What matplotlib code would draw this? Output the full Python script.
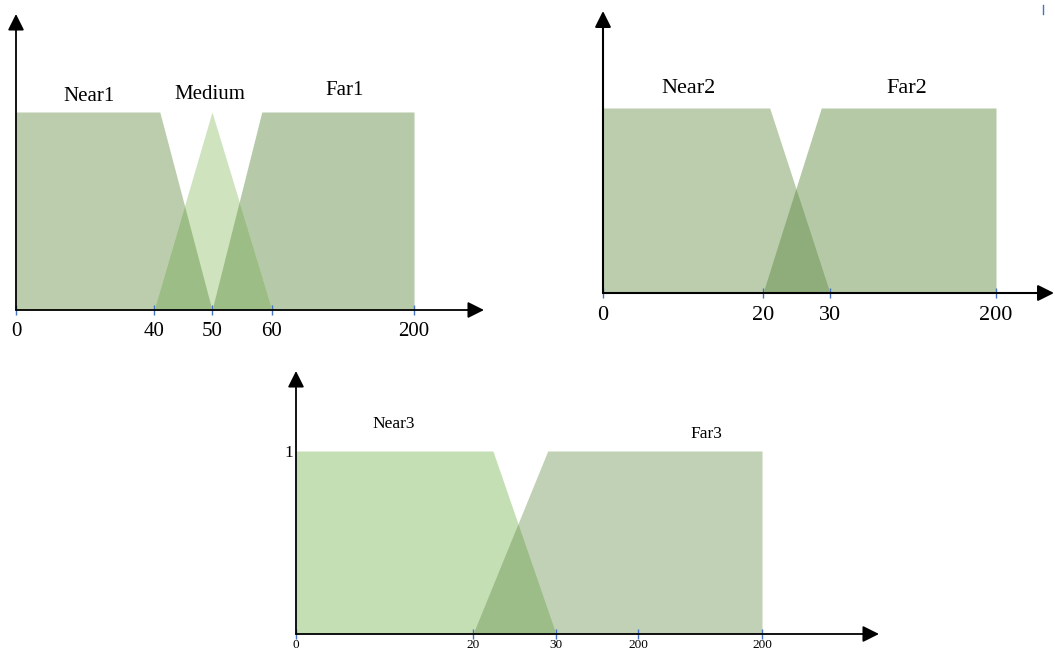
import numpy as np
import matplotlib
matplotlib.use('Agg')
import matplotlib.pyplot as plt
from matplotlib.lines import Line2D

plt.rcParams['font.family'] = ['Liberation Serif', 'DejaVu Serif']

############################## data ###########################################
# membership functions: (x breakpoints, membership values)
# panels 1 and 2 use the axis values, panel 3 uses tick-index units because
# its axis has two ticks labelled 200
p1_ticks = [0, 40, 50, 60, 200]
p1_labels = ['0', '40', '50', '60', '200']
near1 = ([0, 41, 50], [1, 1, 0])
medium = ([40, 50, 60], [0, 1, 0])
far1 = ([50, 58.3, 200], [0, 1, 1])

p2_ticks = [0, 20, 30, 200]
p2_labels = ['0', '20', '30', '200']
near2 = ([0, 21, 30], [1, 1, 0])
far2 = ([20, 28.7, 200], [0, 1, 1])

p3_ticks = [0, 1, 2, 3, 4]
p3_labels = ['0', '20', '30', '200', '200']
near3 = ([0, 1.24, 2], [1, 1, 0])
far3 = ([1, 1.9, 4], [0, 1, 1])

############################## layout #########################################
W, H = 1055, 651
fig = plt.figure(figsize=(W / 100, H / 100), dpi=100)


def make_axes(left, right, bottom, top, unit_px, lw=1.3):
    # pixel box -> axes, x in pixel offsets from the y axis, y in membership
    ax = fig.add_axes([left / W, (H - bottom) / H, (right - left) / W, (bottom - top) / H])
    ax.set_xlim(0, right - left)
    ax.set_ylim(0, (bottom - top) / unit_px)
    for s in ax.spines.values():
        s.set_visible(False)
    kw = dict(arrowstyle='-|>,head_length=0.7,head_width=0.35', color='black',
              lw=lw, shrinkA=0, shrinkB=0, mutation_scale=14)
    ax.annotate('', xy=(1, 0), xytext=(0, 0), xycoords='axes fraction',
                arrowprops=kw, annotation_clip=False, zorder=5)
    ax.annotate('', xy=(0, 1), xytext=(0, 0), xycoords='axes fraction',
                arrowprops=kw, annotation_clip=False, zorder=5)
    return ax


def draw_sets(ax, tick_vals, tick_pos, sets, colors, overlaps, ov_color):
    grid = np.linspace(0, tick_pos[-1], 3000)
    mus = []
    for (xs, ys), c in zip(sets, colors):
        px = np.interp(xs, tick_vals, tick_pos)
        mu = np.interp(grid, px, ys, left=0, right=0)
        mus.append(mu)
        ax.fill_between(grid, 0, mu, where=mu > 0, color=c, lw=0, zorder=1)
    for i, j in overlaps:
        ax.fill_between(grid, 0, np.minimum(mus[i], mus[j]), color=ov_color, lw=0, zorder=2)


def set_ticks(ax, pos, labels, size, pad):
    ax.set_xticks(pos)
    ax.set_xticklabels(labels, fontsize=size)
    ax.tick_params(axis='x', direction='inout', length=7, width=1, color='#4472c4', pad=pad)
    ax.set_yticks([])


# panel 1
ax1 = make_axes(16, 484, 310, 14, 198)
p1_pos = [0, 138, 196, 256, 398]
draw_sets(ax1, p1_ticks, p1_pos, [near1, far1, medium],
          ['#bccdae', '#b6c9a8', '#cfe3bf'], [(0, 2), (1, 2)], '#9dbd86')
set_ticks(ax1, p1_pos, p1_labels, 15, 5)
ax1.get_xticklabels()[0].set_x(-3)
ax1.text(73, 1.08, 'Near1', fontsize=15, ha='center', va='center')
ax1.text(194, 1.086, 'Medium', fontsize=15, ha='center', va='center')
ax1.text(329, 1.11, 'Far1', fontsize=15, ha='center', va='center')

# panel 2
ax2 = make_axes(603, 1054, 293, 11, 185, lw=1.5)
p2_pos = [0, 160, 227, 393]
draw_sets(ax2, p2_ticks, p2_pos, [near2, far2],
          ['#bccdae', '#b5c9a7'], [(0, 1)], '#8fad7a')
set_ticks(ax2, p2_pos, p2_labels, 16, 6)
ax2.text(85, 1.108, 'Near2', fontsize=16, ha='center', va='center')
ax2.text(304, 1.108, 'Far2', fontsize=16, ha='center', va='center')

# panel 3
ax3 = make_axes(296, 879, 634, 371, 183)
p3_pos = [0, 177, 260, 342, 466]
draw_sets(ax3, p3_ticks, p3_pos, [near3, far3],
          ['#c5dfb5', '#c1d1b5'], [(0, 1)], '#9dbd88')
set_ticks(ax3, p3_pos, p3_labels, 9.5, 0)
ax3.set_yticks([1])
ax3.set_yticklabels(['1'], fontsize=12.5)
ax3.tick_params(axis='y', length=0, pad=2)
ax3.text(98, 1.148, 'Near3', fontsize=12.5, ha='center', va='center')
ax3.text(410, 1.093, 'Far3', fontsize=12.5, ha='center', va='center')

# small stray blue mark at the top right of the reference
fig.add_artist(Line2D([1043 / W, 1043 / W], [1 - 5 / H, 1 - 14 / H], color='#4472c4', lw=1))

fig.savefig('out.png', dpi=100)
